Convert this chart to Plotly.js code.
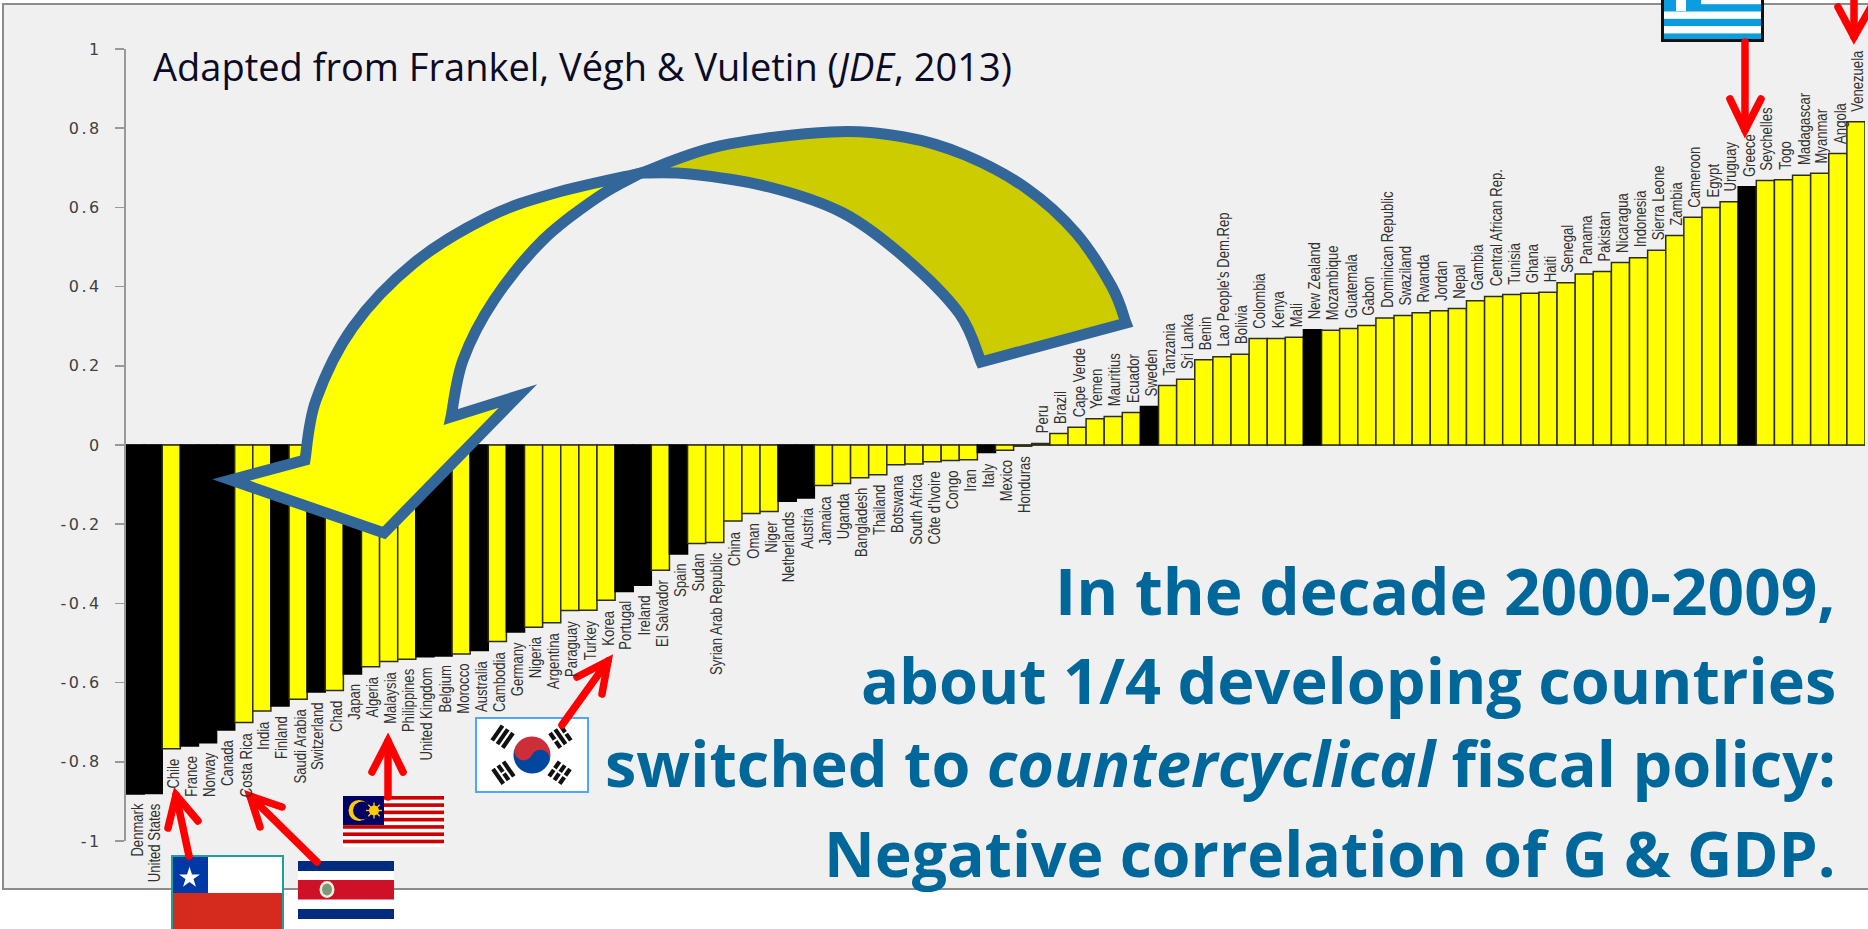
<!DOCTYPE html>
<html>
<head>
<meta charset="utf-8">
<script src="https://cdn.plot.ly/plotly-3.0.1.min.js"></script>
<style>
html,body{margin:0;padding:0;background:#fff;overflow:hidden}
#chart{width:1868px;height:929px}
.shapelayer path{stroke-linecap:round;stroke-miterlimit:10}
.ytick text{letter-spacing:2.5px}
</style>
</head>
<body>
<div id="chart"></div>
<script>
const countries = ["Denmark","United States","Chile","France","Norway","Canada","Costa Rica","India","Finland","Saudi Arabia","Switzerland","Chad","Japan","Algeria","Malaysia","Philippines","United Kingdom","Belgium","Morocco","Australia","Cambodia","Germany","Nigeria","Argentina","Paraguay","Turkey","Korea","Portugal","Ireland","El Salvador","Spain","Sudan","Syrian Arab Republic","China","Oman","Niger","Netherlands","Austria","Jamaica","Uganda","Bangladesh","Thailand","Botswana","South Africa","Côte d'Ivoire","Congo","Iran","Italy","Mexico","Honduras","Peru","Brazil","Cape Verde","Yemen","Mauritius","Ecuador","Sweden","Tanzania","Sri Lanka","Benin","Lao People's Dem.Rep","Bolivia","Colombia","Kenya","Mali","New Zealand","Mozambique","Guatemala","Gabon","Dominican Republic","Swaziland","Rwanda","Jordan","Nepal","Gambia","Central African Rep.","Tunisia","Ghana","Haiti","Senegal","Panama","Pakistan","Nicaragua","Indonesia","Sierra Leone","Zambia","Cameroon","Egypt","Uruguay","Greece","Seychelles","Togo","Madagascar","Myanmar","Angola","Venezuela"];
const correlation = [-0.881,-0.880,-0.767,-0.760,-0.752,-0.720,-0.701,-0.672,-0.659,-0.642,-0.624,-0.620,-0.578,-0.560,-0.547,-0.541,-0.535,-0.533,-0.528,-0.519,-0.496,-0.472,-0.460,-0.449,-0.418,-0.417,-0.392,-0.370,-0.354,-0.316,-0.275,-0.249,-0.246,-0.192,-0.173,-0.168,-0.142,-0.134,-0.102,-0.097,-0.083,-0.075,-0.050,-0.048,-0.042,-0.039,-0.037,-0.019,-0.013,-0.003,0.004,0.029,0.045,0.066,0.072,0.082,0.097,0.150,0.166,0.215,0.223,0.229,0.269,0.269,0.272,0.291,0.290,0.294,0.302,0.321,0.327,0.334,0.339,0.345,0.364,0.375,0.380,0.383,0.386,0.410,0.432,0.438,0.461,0.473,0.492,0.529,0.575,0.600,0.614,0.652,0.668,0.670,0.681,0.686,0.736,0.816];
const industrial = ["Denmark","United States","France","Norway","Canada","Finland","Switzerland","Japan","United Kingdom","Belgium","Australia","Germany","Portugal","Ireland","Spain","Netherlands","Austria","Italy","Sweden","New Zealand","Greece"];
const yTickValues = [-1,-0.8,-0.6,-0.4,-0.2,0,0.2,0.4,0.6,0.8,1];
const yTickLabels = ["-1","-0.8","-0.6","-0.4","-0.2","0","0.2","0.4","0.6","0.8","1"];
const sourceNote = "Adapted from Frankel, Végh &amp; Vuletin (<i>JDE</i>, 2013)";
const headline = ["In the decade 2000-2009,","about 1/4 developing countries","switched to <i>countercyclical</i> fiscal policy:","Negative correlation of G &amp; GDP."];

// Page geometry (pixels)
const W = 1868, H = 929, L = 126, R = 1865, T = 49, B = 841;
const fx = x => (x - L) / (R - L);
const fy = y => (B - y) / (B - T);
const P = (x, y) => fx(x).toFixed(5) + ' ' + fy(y).toFixed(5);

// Catmull-Rom through points -> cubic segments (no leading M)
function smooth(pts) {
  let s = '';
  for (let i = 0; i < pts.length - 1; i++) {
    const p0 = pts[Math.max(i - 1, 0)], p1 = pts[i], p2 = pts[i + 1], p3 = pts[Math.min(i + 2, pts.length - 1)];
    const c1 = [p1[0] + (p2[0] - p0[0]) / 6, p1[1] + (p2[1] - p0[1]) / 6];
    const c2 = [p2[0] - (p3[0] - p1[0]) / 6, p2[1] - (p3[1] - p1[1]) / 6];
    s += ' C' + P(c1[0], c1[1]) + ' ' + P(c2[0], c2[1]) + ' ' + P(p2[0], p2[1]);
  }
  return s;
}
const backOuter = [[641,173],[720,146],[831,132],[904,137],[965,155],[1026,188],[1076,233],[1112,287],[1126,323]];
const backInner = [[981,362],[959,313],[904,257],[843,213],[769,187],[690,174],[641,173]];
const backPath = 'M' + P(...backOuter[0]) + smooth(backOuter) + ' L' + P(...backInner[0]) + smooth(backInner) + ' Z';
const frontOuter = [[641,173],[555,193],[488,217],[414,263],[353,327],[316,400],[305,460]];
const frontInner = [[451,417],[463,360],[494,300],[543,240],[598,197],[641,173]];
const frontPath = 'M' + P(...frontOuter[0]) + smooth(frontOuter) + ' L' + P(231,480) + ' L' + P(384,533) + ' L' + P(518,396) + ' L' + P(...frontInner[0]) + smooth(frontInner) + ' Z';

const redArrows = [
  {tail:[1745,42],tip:[1745,130],a:[1730,99],b:[1761,99]},
  {tail:[1854,-5],tip:[1854,37],a:[1838,7],b:[1871,7]},
  {tail:[189,856],tip:[176,795],a:[168,828],b:[198,821]},
  {tail:[317,862],tip:[250,796],a:[260,827],b:[282,807]},
  {tail:[388,797],tip:[388,741],a:[372,772],b:[403,772]},
  {tail:[562,725],tip:[608,661],a:[577,677],b:[602,694]}
];
const shapes = [
  {type:'rect',xref:'paper',yref:'paper',layer:'below',x0:fx(3),x1:fx(1880),y0:fy(889),y1:fy(4),fillcolor:'#f0f0f0',line:{color:'#8c8c8c',width:2}},
  {type:'path',xref:'paper',yref:'paper',layer:'above',path:backPath,fillcolor:'#cccc00',line:{color:'#336699',width:11}},
  {type:'path',xref:'paper',yref:'paper',layer:'above',path:frontPath,fillcolor:'#ffff00',line:{color:'#336699',width:11}}
];
redArrows.forEach(r => {
  shapes.push({type:'path',xref:'paper',yref:'paper',layer:'above',path:'M'+P(...r.tail)+' L'+P(r.tip[0],r.tip[1]),line:{color:'#ff0000',width:7.5}});
  shapes.push({type:'path',xref:'paper',yref:'paper',layer:'above',path:'M'+P(...r.a)+' L'+P(...r.tip)+' L'+P(...r.b),line:{color:'#ff0000',width:7.5}});
});

function svg(w, h, body) {
  return 'data:image/svg+xml;charset=utf-8,' + encodeURIComponent(
    '<svg xmlns="http://www.w3.org/2000/svg" width="'+w+'" height="'+h+'" viewBox="0 0 '+w+' '+h+'">'+body+'</svg>');
}
function trigram(cx, cy, ang, pattern) {
  let s = '<g transform="translate('+cx+' '+cy+') rotate('+ang+')" fill="#111">';
  pattern.forEach((br, k) => {
    const y = -9 + k * 6.4;
    if (br) { s += '<rect x="-9" y="'+y+'" width="8" height="4.2"/><rect x="1" y="'+y+'" width="8" height="4.2"/>'; }
    else { s += '<rect x="-9" y="'+y+'" width="18" height="4.2"/>'; }
  });
  return s + '</g>';
}
const chileFlag = svg(113,76,'<rect width="113" height="76" fill="#fff"/><rect y="38" width="113" height="38" fill="#d52b1e"/><rect width="37" height="38" fill="#0039a6"/><polygon points="18.5,10 21.6,19.5 31.6,19.5 23.5,25.4 26.6,35 18.5,29 10.4,35 13.5,25.4 5.4,19.5 15.4,19.5" transform="translate(3.7 3.8) scale(.8)" fill="#fff"/><rect x="1" y="1" width="111" height="74" fill="none" stroke="#1f9e9e" stroke-width="2"/>');
const costaRicaFlag = svg(96,58,'<rect width="96" height="58" fill="#fff"/><rect width="96" height="10" fill="#002b7f"/><rect y="48" width="96" height="10" fill="#002b7f"/><rect y="19" width="96" height="19.5" fill="#ce1126"/><ellipse cx="29" cy="28.5" rx="7.5" ry="8.5" fill="#f4efe0"/><ellipse cx="29" cy="28.5" rx="5" ry="6" fill="#7c9a78"/>');
let malayStripes = '';
for (let i = 0; i < 7; i++) malayStripes += '<rect y="'+(i*7.28).toFixed(2)+'" width="101" height="3.64" fill="#cc0001"/>';
const malaysiaFlag = svg(101,51,'<rect width="101" height="51" fill="#fff"/>'+malayStripes+'<rect width="41" height="29" fill="#010066"/><circle cx="16" cy="14.5" r="10.5" fill="#fc0"/><circle cx="19" cy="14.5" r="9" fill="#010066"/><circle cx="31" cy="14.5" r="5" fill="#fc0"/><g stroke="#fc0" stroke-width="1.3"><line x1="23" y1="14.5" x2="39" y2="14.5"/><line x1="31" y1="6.5" x2="31" y2="22.5"/><line x1="25.3" y1="8.8" x2="36.7" y2="20.2"/><line x1="25.3" y1="20.2" x2="36.7" y2="8.8"/></g>');
const koreaFlag = svg(114,76,'<rect x="1" y="1" width="112" height="74" fill="#fff" stroke="#4da6ff" stroke-width="2"/>'
  + '<g transform="translate(57 38) rotate(25)"><path d="M-18.5 0A18.5 18.5 0 0 1 18.5 0Z" fill="#cd2e3a"/><path d="M-18.5 0A18.5 18.5 0 0 0 18.5 0Z" fill="#0047a0"/><circle cx="-9.25" cy="0" r="9.25" fill="#cd2e3a"/><circle cx="9.25" cy="0" r="9.25" fill="#0047a0"/></g>'
  + trigram(28,20,-55,[0,0,0]) + trigram(85,20,55,[1,0,1]) + trigram(28,56,55,[0,1,0]) + trigram(85,56,-55,[1,1,1]));
const greeceFlag = svg(103,67,'<rect width="103" height="67" fill="#0d9ddf"/>'
  + [0,1,2,3].map(i => '<rect y="'+(7.3+i*14.6-0.0).toFixed(1)+'" width="103" height="7.3" fill="#fff"/>').join('')
  + '<rect width="40" height="36" fill="#0d9ddf"/><rect x="15" width="10" height="36" fill="#fff"/><rect y="14" width="40" height="8" fill="#fff"/>'
  + '<rect x="1.5" y="1.5" width="100" height="64" fill="none" stroke="#111" stroke-width="3"/>');

const img = (source, x0, y0, x1, y1) => ({source, xref:'paper', yref:'paper', x:fx(x0), y:fy(y0), sizex:fx(x1)-fx(x0), sizey:fy(y0)-fy(y1), xanchor:'left', yanchor:'top', sizing:'stretch', layer:'above'});
const images = [
  img(chileFlag,171,855,284,931),
  img(costaRicaFlag,298,861,394,919),
  img(malaysiaFlag,343,796,444,847),
  img(koreaFlag,475,717,589,793),
  img(greeceFlag,1661,-25,1764,42)
];

// Country labels are Liberation Sans squeezed to a narrow face, as in the picture.
const labelFontSize = 17, labelSqueeze = 0.77, labelGap = 9;
const measure = document.createElement('canvas').getContext('2d');
measure.font = labelFontSize + 'px "Liberation Sans"';
const annotations = countries.map((c, i) => {
  const full = measure.measureText(c).width;
  const shift = labelGap - full * (1 - labelSqueeze) / 2;
  return {
    x: c, y: correlation[i], xref:'x', yref:'y', text: c, showarrow:false, textangle:-90,
    xanchor:'center', yanchor: correlation[i] < 0 ? 'top' : 'bottom', borderpad:0,
    xshift: 2, yshift: correlation[i] < 0 ? -shift : shift,
    font:{family:'"Liberation Sans",sans-serif',size:labelFontSize,color:'#303030'}
  };
});
const labelCount = annotations.length;
annotations.push({xref:'paper',yref:'paper',x:fx(151),y:fy(66),xanchor:'left',yanchor:'middle',showarrow:false,text:sourceNote,font:{family:'"Open Sans",sans-serif',size:38,color:'#0b0b25'}});
const headlineY = [590,679,762,852];
const headlineSize = [64,63,63,62.5];
headline.forEach((t, i) => annotations.push({xref:'paper',yref:'paper',x:fx(1838),y:fy(headlineY[i]),xanchor:'right',yanchor:'middle',showarrow:false,text:'<b>'+t+'</b>',font:{family:'"Open Sans",sans-serif',size:headlineSize[i],color:'#00679a'}}));

const trace = {
  type:'bar', x:countries, y:correlation, width:1,
  marker:{color:countries.map(c => industrial.includes(c) ? '#000000' : '#ffff00'), line:{color:countries.map(c => industrial.includes(c) ? '#000000' : '#2e2e18'),width:1.5}},
  hoverinfo:'skip', cliponaxis:false
};
const layout = {
  width:W, height:H, autosize:false, showlegend:false,
  margin:{l:L,r:W-R,t:T,b:H-B,pad:0},
  paper_bgcolor:'#ffffff', plot_bgcolor:'rgba(0,0,0,0)',
  bargap:0,
  xaxis:{type:'category',categoryorder:'array',categoryarray:countries,range:[-0.5,countries.length-0.5],showticklabels:false,showgrid:false,ticks:'',zeroline:false,showline:false,fixedrange:true},
  yaxis:{range:[-1,1],tickmode:'array',tickvals:yTickValues,ticktext:yTickLabels,showgrid:false,zeroline:true,zerolinecolor:'#8c8c70',zerolinewidth:1.5,showline:true,linecolor:'#999999',linewidth:2,ticks:'outside',ticklen:9,tickcolor:'#999999',tickwidth:1.5,ticklabelstandoff:10,tickfont:{family:'"DejaVu Sans",sans-serif',size:16,color:'#404040'},fixedrange:true},
  shapes, images, annotations
};
Plotly.newPlot('chart',[trace],layout,{displayModeBar:false,staticPlot:true}).then(() => {
  document.querySelectorAll('.annotation').forEach(g => {
    const i = +g.getAttribute('data-index');
    if (i >= labelCount) return;
    const t = g.querySelector('text');
    if (!t) return;
    t.setAttribute('lengthAdjust','spacingAndGlyphs');
    t.setAttribute('textLength',(t.getComputedTextLength()*labelSqueeze).toFixed(1));
  });
});
</script>
</body>
</html>
